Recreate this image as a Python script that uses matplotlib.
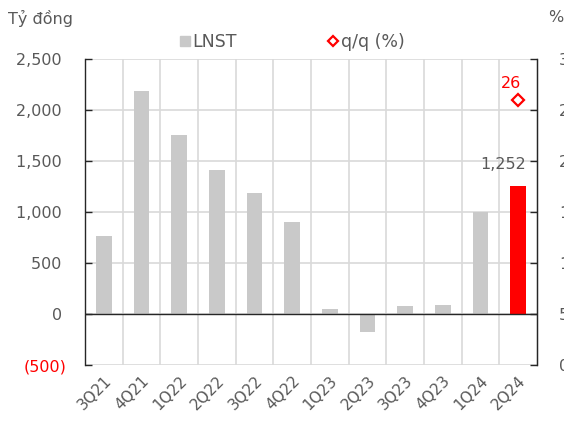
import matplotlib
matplotlib.use("Agg")
import matplotlib.pyplot as plt
from matplotlib.lines import Line2D
from matplotlib.ticker import FuncFormatter, MultipleLocator
import numpy as np

quarters = ["3Q21", "4Q21", "1Q22", "2Q22", "3Q22", "4Q22",
            "1Q23", "2Q23", "3Q23", "4Q23", "1Q24", "2Q24"]
lnst = [760, 2190, 1755, 1415, 1190, 900, 50, -175, 80, 90, 1000, 1252]
qoq_quarter = "2Q24"
qoq_value = 26

GREY_BAR = "#c9c9c9"
TEXT = "#595959"
RED = "#ff0000"

plt.rcParams["font.family"] = ["DejaVu Sans"]

fig = plt.figure(figsize=(5.64, 4.25), dpi=100)
ax = fig.add_axes([85 / 564, 1 - 365 / 425, (537 - 85) / 564, (365 - 59) / 425])

x = np.arange(len(quarters))
colors = [GREY_BAR] * (len(quarters) - 1) + [RED]
ax.bar(x, lnst, width=0.42, color=colors, zorder=3)

ax.set_xlim(-0.5, len(quarters) - 0.5)
ax.set_ylim(-500, 2500)
ax.yaxis.set_major_locator(MultipleLocator(500))

def fmt_left(v, pos):
    if v < 0:
        return "({:,.0f})".format(-v)
    return "{:,.0f} ".format(v)

ax.yaxis.set_major_formatter(FuncFormatter(fmt_left))
ax.tick_params(axis="y", direction="in", length=5, width=1, colors="#262626",
               labelcolor=TEXT, labelsize=11.5, pad=13)
for lbl in ax.get_yticklabels():
    if lbl.get_text().startswith("("):
        lbl.set_color(RED)

# horizontal grid at each tick, vertical grid at category boundaries
for v in range(-500, 2501, 500):
    ax.axhline(v, color="#d9d9d9", lw=1.2, zorder=1)
for b in np.arange(0.5, len(quarters) - 0.5, 1):
    ax.axvline(b, color="#d9d9d9", lw=1.2, zorder=1)
ax.axhline(0, color="#262626", lw=1, zorder=4)

ax.set_xticks(x)
ax.set_xticklabels(quarters, rotation=45, ha="right", rotation_mode="anchor",
                   color=TEXT, fontsize=11)
ax.tick_params(axis="x", length=0, pad=6)

for s in ["top", "bottom"]:
    ax.spines[s].set_visible(False)
for s in ["left", "right"]:
    ax.spines[s].set_color("#262626")
    ax.spines[s].set_linewidth(1)

# data label for latest quarter
ax.text(x[-1] + 0.22, lnst[-1] + 140, "{:,.0f}".format(lnst[-1]),
        ha="right", va="bottom", color=TEXT, fontsize=11.5, zorder=5)

# secondary axis for q/q growth
ax2 = ax.twinx()
ax2.set_ylim(0, 30)
ax2.yaxis.set_major_locator(MultipleLocator(5))
ax2.yaxis.set_major_formatter(FuncFormatter(lambda v, p: "{:.0f}".format(v)))
ax2.tick_params(axis="y", direction="in", length=5, width=1, colors="#262626",
                labelcolor=TEXT, labelsize=11.5, pad=16)
for s in ["top", "bottom", "left"]:
    ax2.spines[s].set_visible(False)
ax2.spines["right"].set_color("#262626")

qi = quarters.index(qoq_quarter)
ax2.plot([qi], [qoq_value], marker="D", markersize=6, markerfacecolor="white",
         markeredgecolor=RED, markeredgewidth=1.6, linestyle="none", zorder=6)
ax2.text(qi - 0.18, qoq_value + 0.9, str(qoq_value), ha="center", va="bottom",
         color=RED, fontsize=11.5)

fig.text(8 / 564, 1 - 18 / 425, "Tỷ đồng", ha="left", va="center",
         color=TEXT, fontsize=11.5)
fig.text(548 / 564, 1 - 18 / 425, "%", ha="left", va="center",
         color=TEXT, fontsize=11.5)

handles = [
    Line2D([], [], marker="s", color="none", markerfacecolor=GREY_BAR,
           markeredgecolor=GREY_BAR, markersize=7, label="LNST"),
    Line2D([], [], marker="D", color="none", markerfacecolor="white",
           markeredgecolor=RED, markeredgewidth=1.6, markersize=5.5, label="q/q (%)"),
]
fig.legend(handles=handles, loc="center", bbox_to_anchor=(292 / 564, 1 - 42 / 425),
           ncol=2, frameon=False, fontsize=12.5, handlelength=0.6,
           handletextpad=0.15, columnspacing=5.2, labelcolor=TEXT)

fig.savefig("out.png", dpi=100)
